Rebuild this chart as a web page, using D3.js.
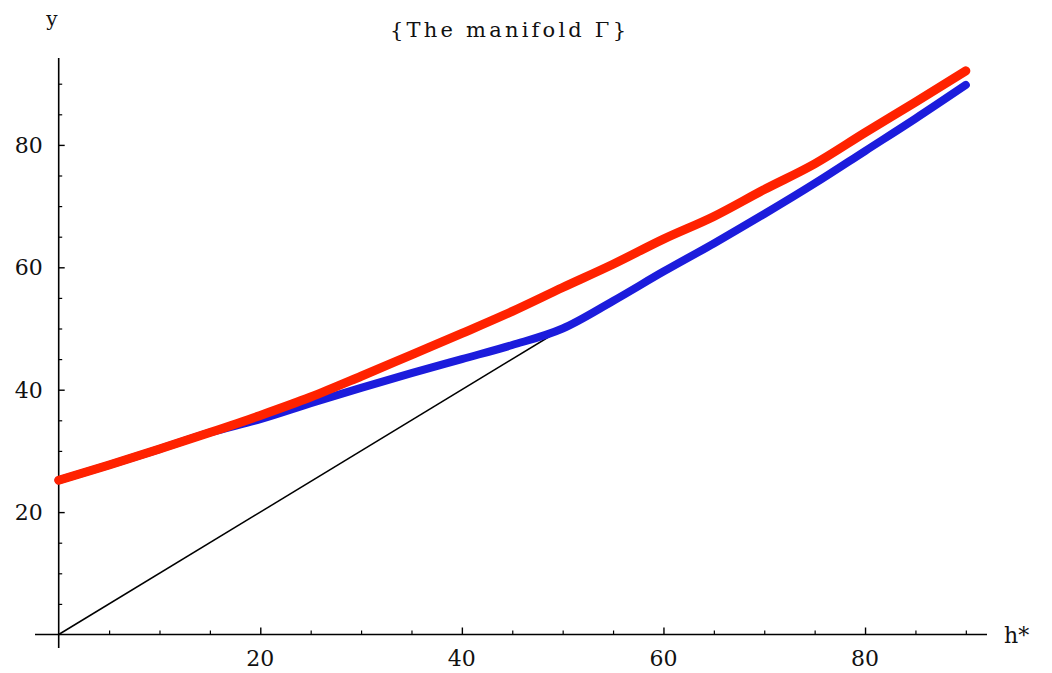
<!DOCTYPE html>
<html>
<head>
<meta charset="utf-8">
<script src="https://cdn.jsdelivr.net/npm/d3@7"></script>
<style>
  html, body { margin: 0; padding: 0; background: #fff; }
  svg text { font-family: "DejaVu Serif", "Liberation Serif", serif; fill: #111; }
</style>
</head>
<body>
<svg id="chart" width="1052" height="673"></svg>
<script>
// ---- data ----
const xs        = [0, 5, 10, 15, 20, 25, 30, 35, 40, 45, 50, 55, 60, 65, 70, 75, 80, 85, 90];
const redY      = [25.2, 27.7, 30.3, 33.0, 35.8, 38.8, 42.2, 45.7, 49.2, 52.8, 56.7, 60.5, 64.6, 68.3, 72.7, 76.9, 82.0, 87.0, 92.1];
const blueY     = [25.2, 27.7, 30.3, 33.0, 35.2, 37.8, 40.3, 42.7, 45.0, 47.3, 50.0, 54.5, 59.3, 63.9, 68.7, 73.7, 79.0, 84.3, 89.8];
const diagX     = [0, 50];
const diagY     = [0, 50];
const xTickVals = [20, 40, 60, 80];
const yTickVals = [20, 40, 60, 80];
const xMinor    = [5, 10, 15, 25, 30, 35, 45, 50, 55, 65, 70, 75, 85, 90];
const yMinor    = [5, 10, 15, 25, 30, 35, 45, 50, 55, 65, 70, 75, 85, 90];
const titleText = "{The manifold \u0393}";
const xLabel    = "h*";
const yLabel    = "y";

// ---- scales ----
const x = d3.scaleLinear().domain([0, 92.1]).range([58.7, 987]);
const y = d3.scaleLinear().domain([0, 94.2]).range([634.5, 58]);

const svg = d3.select("#chart");

// axes lines (extend a little past origin like Mathematica)
svg.append("line").attr("x1", x(-2.35)).attr("x2", x(92.1))
  .attr("y1", y(0)).attr("y2", y(0)).attr("stroke", "#000").attr("stroke-width", 1.6);
svg.append("line").attr("x1", x(0)).attr("x2", x(0))
  .attr("y1", y(-2.2)).attr("y2", y(94.2)).attr("stroke", "#000").attr("stroke-width", 1.6);

// x ticks (pointing up into plot)
const xAxisMajor = d3.axisTop(x).tickValues(xTickVals).tickSize(7).tickFormat("");
const gxMaj = svg.append("g").attr("transform", `translate(0,${y(0)})`).call(xAxisMajor);
gxMaj.select(".domain").remove();
gxMaj.selectAll("line").attr("stroke-width", 1.4);
const xAxisMinor = d3.axisTop(x).tickValues(xMinor).tickSize(4).tickFormat("");
const gxMin = svg.append("g").attr("transform", `translate(0,${y(0)})`).call(xAxisMinor);
gxMin.select(".domain").remove();
gxMin.selectAll("line").attr("stroke-width", 1.2);

// y ticks (pointing right into plot)
const yAxisMajor = d3.axisRight(y).tickValues(yTickVals).tickSize(6).tickFormat("");
const gyMaj = svg.append("g").attr("transform", `translate(${x(0)},0)`).call(yAxisMajor);
gyMaj.select(".domain").remove();
gyMaj.selectAll("line").attr("stroke-width", 1.4);
const yAxisMinor = d3.axisRight(y).tickValues(yMinor).tickSize(3.5).tickFormat("");
const gyMin = svg.append("g").attr("transform", `translate(${x(0)},0)`).call(yAxisMinor);
gyMin.select(".domain").remove();
gyMin.selectAll("line").attr("stroke-width", 1.2);

// tick labels
svg.append("g").selectAll("text").data(xTickVals).join("text")
  .attr("x", d => x(d)).attr("y", y(0) + 31)
  .attr("text-anchor", "middle").attr("font-size", 22)
  .text(d => d);
svg.append("g").selectAll("text").data(yTickVals).join("text")
  .attr("x", x(0) - 16).attr("y", d => y(d) + 8)
  .attr("text-anchor", "end").attr("font-size", 22)
  .text(d => d);

// axis labels & title
svg.append("text").attr("x", 52).attr("y", 26).attr("text-anchor", "middle")
  .attr("font-size", 20).text(yLabel);
svg.append("text").attr("x", 1004).attr("y", 643).attr("text-anchor", "start")
  .attr("font-size", 22).text(xLabel);
svg.append("text").attr("x", 390).attr("y", 37).attr("text-anchor", "start")
  .attr("font-size", 21).attr("textLength", 236).attr("lengthAdjust", "spacing")
  .text(titleText);

// curves
const line = d3.line().x(d => x(d[0])).y(d => y(d[1])).curve(d3.curveMonotoneX);

svg.append("path").datum(diagX.map((v, i) => [v, diagY[i]]))
  .attr("d", d3.line().x(d => x(d[0])).y(d => y(d[1])))
  .attr("fill", "none").attr("stroke", "#000").attr("stroke-width", 1.5);

svg.append("path").datum(xs.map((v, i) => [v, blueY[i]]))
  .attr("d", line).attr("fill", "none").attr("stroke", "#1c1cdc")
  .attr("stroke-width", 8).attr("stroke-linecap", "round").attr("stroke-linejoin", "round");

svg.append("path").datum(xs.map((v, i) => [v, redY[i]]))
  .attr("d", line).attr("fill", "none").attr("stroke", "#ff2200")
  .attr("stroke-width", 9).attr("stroke-linecap", "round").attr("stroke-linejoin", "round");
</script>
</body>
</html>
